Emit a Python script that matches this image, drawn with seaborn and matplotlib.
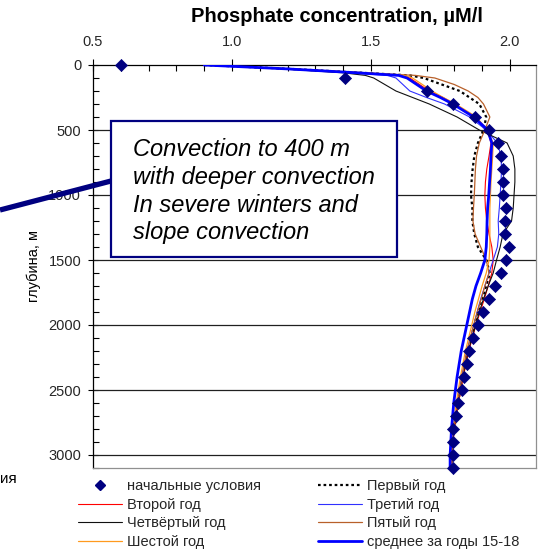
import matplotlib
matplotlib.use("Agg")
import matplotlib.pyplot as plt
from matplotlib.lines import Line2D
from matplotlib.patches import Rectangle
from matplotlib.ticker import MultipleLocator
import seaborn as sns
import pandas as pd

# ---------------- data ----------------
depths = [0, 30, 60, 80, 100, 150, 200, 250, 300, 400, 500, 600, 700, 800, 900,
          1000, 1100, 1200, 1300, 1400, 1500, 1600, 1700, 1800, 1900, 2000,
          2200, 2400, 2600, 2800, 3000, 3100]

year1 = [0.90, 1.21, 1.47, 1.64, 1.69, 1.755, 1.82, 1.855, 1.89, 1.915, 1.905, 1.885,
         1.872, 1.866, 1.862, 1.86, 1.865, 1.865, 1.872, 1.885, 1.915, 1.928, 1.915,
         1.90, 1.885, 1.872, 1.848, 1.83, 1.813, 1.80, 1.79, 1.79]
year2 = [0.90, 1.21, 1.46, 1.61, 1.64, 1.675, 1.71, 1.76, 1.80, 1.875, 1.92, 1.932,
         1.925, 1.917, 1.912, 1.91, 1.912, 1.917, 1.925, 1.935, 1.94, 1.935, 1.922,
         1.908, 1.893, 1.878, 1.852, 1.832, 1.815, 1.80, 1.792, 1.79]
year3 = [0.90, 1.19, 1.42, 1.56, 1.59, 1.615, 1.64, 1.70, 1.765, 1.855, 1.915, 1.955,
         1.968, 1.97, 1.968, 1.965, 1.962, 1.958, 1.96, 1.955, 1.94, 1.925, 1.91,
         1.895, 1.882, 1.87, 1.845, 1.826, 1.81, 1.797, 1.788, 1.788]
year4 = [0.90, 1.18, 1.40, 1.48, 1.51, 1.55, 1.59, 1.65, 1.71, 1.81, 1.89, 1.99,
         2.012, 2.018, 2.018, 2.015, 2.012, 2.006, 1.975, 1.965, 1.952, 1.94, 1.922,
         1.905, 1.89, 1.877, 1.85, 1.83, 1.813, 1.798, 1.79, 1.79]
year5 = [0.90, 1.21, 1.48, 1.66, 1.73, 1.80, 1.85, 1.885, 1.905, 1.928, 1.91, 1.89,
         1.88, 1.876, 1.874, 1.872, 1.869, 1.867, 1.875, 1.895, 1.915, 1.925, 1.91,
         1.897, 1.883, 1.87, 1.846, 1.828, 1.812, 1.799, 1.79, 1.79]
year6 = [0.90, 1.21, 1.47, 1.62, 1.65, 1.685, 1.72, 1.76, 1.805, 1.88, 1.918, 1.94,
         1.938, 1.935, 1.932, 1.93, 1.928, 1.928, 1.928, 1.928, 1.925, 1.915, 1.90,
         1.887, 1.874, 1.863, 1.84, 1.822, 1.807, 1.795, 1.787, 1.787]
mean_15_18 = [0.90, 1.20, 1.45, 1.60, 1.63, 1.665, 1.70, 1.75, 1.795, 1.87, 1.92, 1.935,
              1.932, 1.93, 1.927, 1.924, 1.92, 1.918, 1.917, 1.915, 1.91, 1.895, 1.878,
              1.865, 1.855, 1.845, 1.825, 1.81, 1.798, 1.79, 1.785, 1.785]

init_depths = list(range(0, 3200, 100))
init_values = [0.60, 1.406, 1.70, 1.795, 1.874, 1.924, 1.957, 1.968, 1.975, 1.975,
               1.975, 1.985, 1.982, 1.982, 1.996, 1.985, 1.968, 1.946, 1.924, 1.903,
               1.885, 1.867, 1.852, 1.845, 1.835, 1.827, 1.813, 1.806, 1.795, 1.795,
               1.795, 1.795]

x_ticks = [0.5, 1.0, 1.5, 2.0]
y_ticks = [0, 500, 1000, 1500, 2000, 2500, 3000]

title = "Phosphate concentration, \u00b5M/l"
ylabel = "глубина, м"
note = "Convection to 400 m\nwith deeper convection\nIn severe winters and\nslope convection"

series = [
    ("Первый год", year1),
    ("Второй год", year2),
    ("Третий год", year3),
    ("Четвёртый год", year4),
    ("Пятый год", year5),
    ("Шестой год", year6),
    ("среднее за годы 15-18", mean_15_18),
]
init_label = "начальные условия"

styles = {
    "Первый год": dict(color="black", lw=1.6, ls=(0, (1.2, 1.3))),
    "Второй год": dict(color="#ff0000", lw=0.8, ls="-"),
    "Третий год": dict(color="#3030ff", lw=0.8, ls="-"),
    "Четвёртый год": dict(color="#101010", lw=0.8, ls="-"),
    "Пятый год": dict(color="#b8602a", lw=0.9, ls="-"),
    "Шестой год": dict(color="#ff9a1e", lw=0.9, ls="-"),
    "среднее за годы 15-18": dict(color="#0000ff", lw=2.0, ls="-"),
}

# ---------------- figure ----------------
sns.set_theme(style="white")
plt.rcParams["font.family"] = ["Liberation Sans", "DejaVu Sans"]

W, H = 539, 555
fig = plt.figure(figsize=(W / 100, H / 100), dpi=100)
fig.patch.set_facecolor("white")

def fx(px):
    return px / W

def fy(py):
    return 1 - py / H

ax = fig.add_axes([fx(93), fy(468), fx(536) - fx(93), fy(65) - fy(468)])
ax.set_facecolor("white")

handles = {}
for name, vals in series:
    st = styles[name]
    df = pd.DataFrame({"x": vals, "depth": depths})
    sns.lineplot(data=df, x="x", y="depth", sort=False, estimator=None,
                 color=st["color"], linewidth=st["lw"], ax=ax, zorder=3)
    line = ax.lines[-1]
    line.set_linestyle(st["ls"])
    handles[name] = Line2D([], [], color=st["color"], lw=st["lw"], ls=st["ls"])

dfi = pd.DataFrame({"x": init_values, "depth": init_depths})
sns.scatterplot(data=dfi, x="x", y="depth", marker="D", s=38, color="#000080",
                edgecolor="#000080", linewidth=0.5, ax=ax, zorder=5, clip_on=False)
handles[init_label] = Line2D([], [], color="#000080", marker="D", ls="none", markersize=5)

ax.set_xlim(0.5, 2.094)
ax.set_ylim(3100, 0)
ax.xaxis.tick_top()
ax.set_xticks(x_ticks)
ax.set_xticklabels([f"{v:.1f}" for v in x_ticks])
ax.set_yticks(y_ticks)
ax.set_yticklabels([str(v) for v in y_ticks])
ax.xaxis.set_minor_locator(MultipleLocator(0.1))
ax.yaxis.set_minor_locator(MultipleLocator(100))
ax.tick_params(axis="x", which="major", direction="inout", length=9, width=0.8,
               color="black", labelsize=10.5, pad=7, top=True, bottom=False)
ax.tick_params(axis="x", which="minor", direction="in", length=4.5, width=0.8,
               color="black", top=True, bottom=False)
ax.tick_params(axis="y", which="major", direction="inout", length=7, width=0.8,
               color="black", labelsize=10.5, pad=5, left=True)
ax.tick_params(axis="y", which="minor", direction="in", length=4, width=0.8,
               color="black", left=True)
ax.set_xlabel("")
ax.set_ylabel("")

for yv in y_ticks[1:]:
    ax.axhline(yv, color="#202020", lw=0.9, zorder=1)

for side in ["top", "left"]:
    ax.spines[side].set_color("black")
    ax.spines[side].set_linewidth(0.9)
for side in ["right", "bottom"]:
    ax.spines[side].set_color("#909090")
    ax.spines[side].set_linewidth(0.9)

# y label
ax.set_ylabel(ylabel, fontsize=10.5, color="black")
ax.yaxis.label.set_verticalalignment("center")
ax.yaxis.set_label_coords((34 - 93) / 443, 0.5)

# title
fig.text(fx(337), fy(17), title, ha="center", va="center", fontsize=14.5,
         fontweight="bold", color="black")

# annotation box + leader line
fig.add_artist(Line2D([fx(0), fx(111)], [fy(210), fy(181)], color="#000080",
                      lw=3.8, solid_capstyle="butt", zorder=10))
box = Rectangle((fx(111), fy(257)), fx(397) - fx(111), fy(121) - fy(257),
                transform=fig.transFigure, facecolor="white", edgecolor="#000080",
                lw=1.6, zorder=11)
fig.add_artist(box)
fig.text(fx(133), fy(138.5), note, ha="left", va="top", fontsize=17,
         fontstyle="italic", color="black", linespacing=1.25, zorder=12)

# cut-off fragment on the left
fig.text(fx(0), fy(479), "ия", ha="left", va="center", fontsize=11, color="black")

# legends
col1 = [init_label, "Второй год", "Четвёртый год", "Шестой год"]
col2 = ["Первый год", "Третий год", "Пятый год", "среднее за годы 15-18"]
leg_kw = dict(frameon=False, fontsize=10.5, handlelength=3.0, handletextpad=0.35,
              labelspacing=0.32, borderpad=0, borderaxespad=0, loc="upper left")
leg1 = fig.legend([handles[k] for k in col1], col1,
                  bbox_to_anchor=(fx(78), fy(479)), **leg_kw)
leg2 = fig.legend([handles[k] for k in col2], col2,
                  bbox_to_anchor=(fx(318), fy(479)), **leg_kw)

fig.savefig("out.png", dpi=100)
